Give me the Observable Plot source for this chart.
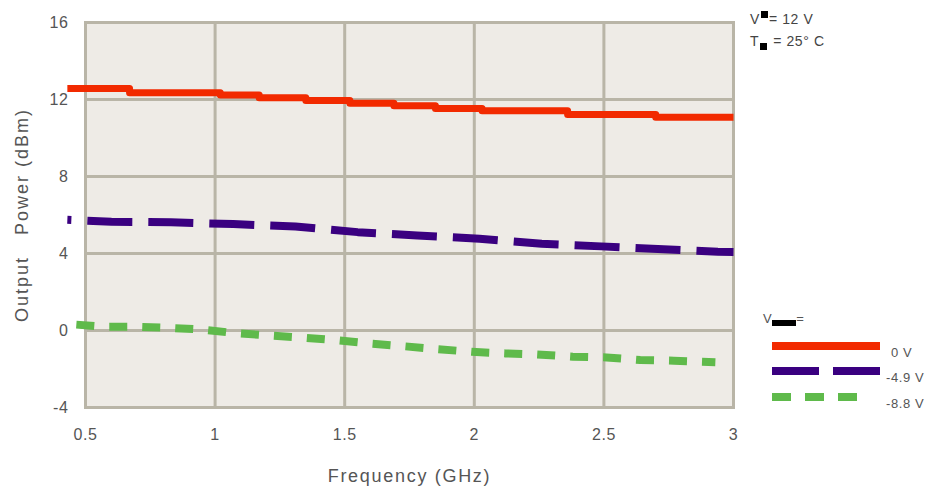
<!DOCTYPE html>
<html>
<head>
<meta charset="utf-8">
<script src="https://cdn.jsdelivr.net/npm/d3@7"></script>
<script src="https://cdn.jsdelivr.net/npm/@observablehq/plot@0.6"></script>
<style>
  html, body { margin: 0; padding: 0; background: #fff; }
  #wrap { position: relative; width: 942px; height: 494px; font-family: "Liberation Sans", Arial, sans-serif; color: #555; }
  .ann { position: absolute; font-size: 14px; letter-spacing: 0.6px; color: #444; white-space: nowrap; line-height: 1; }
  .sq { display: inline-block; width: 7px; height: 7px; background: #000; }
  .leglab { position: absolute; font-size: 13px; letter-spacing: 0.6px; color: #555; white-space: nowrap; }
</style>
</head>
<body>
<div id="wrap"></div>
<script>
// ---- data ----
const xTicks = [0.5, 1, 1.5, 2, 2.5, 3];
const yTicks = [-4, 0, 4, 8, 12, 16];
const seriesNames = ["0 V", "-4.9 V", "-8.8 V"];

const redX = [0.43, 0.67, 1.02, 1.17, 1.35, 1.52, 1.69, 1.85, 2.03, 2.36, 2.70, 3.0];
const redY = [12.57, 12.35, 12.23, 12.09, 11.95, 11.81, 11.67, 11.53, 11.41, 11.22, 11.08, 11.08];

const purpleX = [0.43, 0.60, 0.83, 1.07, 1.31, 1.55, 1.78, 2.02, 2.26, 2.49, 2.73, 2.94, 3.0];
const purpleY = [5.75, 5.65, 5.62, 5.53, 5.40, 5.11, 4.94, 4.77, 4.51, 4.37, 4.22, 4.09, 4.08];

const greenX = [0.43, 0.57, 0.69, 0.82, 0.95, 1.08, 1.21, 1.34, 1.47, 1.60, 1.73, 1.86, 1.99, 2.12, 2.24, 2.38, 2.51, 2.64, 2.77, 2.93];
const greenY = [0.34, 0.2, 0.2, 0.14, 0.05, -0.14, -0.26, -0.37, -0.51, -0.68, -0.82, -0.97, -1.11, -1.19, -1.24, -1.36, -1.40, -1.53, -1.57, -1.65];

const colors = ["#f22a00", "#3a0080", "#5fba4b"];
const gridColor = "#b9b5a7";

const toRows = (xs, ys) => xs.map((x, i) => ({x, y: ys[i]}));
const red = toRows(redX, redY);
const purple = toRows(purpleX, purpleY);
const green = toRows(greenX, greenY);

const chart = Plot.plot({
  width: 942,
  height: 494,
  marginLeft: 85,
  marginRight: 209,
  marginTop: 22,
  marginBottom: 87,
  style: {fontFamily: "Liberation Sans, Arial, sans-serif", color: "#555", background: "transparent"},
  x: {domain: [0.5, 3]},
  y: {domain: [-4, 16]},
  marks: [
    Plot.frame({fill: "#eeebe6", stroke: null}),
    Plot.gridX(xTicks, {stroke: gridColor, strokeOpacity: 1, strokeWidth: 3}),
    Plot.gridY(yTicks, {stroke: gridColor, strokeOpacity: 1, strokeWidth: 3}),
    Plot.frame({stroke: gridColor, strokeWidth: 3}),
    Plot.line(green, {x: "x", y: "y", stroke: colors[2], strokeWidth: 8, strokeDasharray: "18,15", strokeDashoffset: 24, strokeLinecap: "butt"}),
    Plot.line(purple, {x: "x", y: "y", stroke: colors[1], strokeWidth: 8, strokeDasharray: "45,16", strokeDashoffset: 41, strokeLinecap: "butt"}),
    Plot.line(red, {x: "x", y: "y", curve: "step-after", stroke: colors[0], strokeWidth: 7, strokeLinecap: "butt"}),
    Plot.axisX({ticks: xTicks, tickSize: 0, tickPadding: 21, fontSize: 16, label: null, tickFormat: d => String(d)}),
    Plot.axisY({ticks: yTicks, tickSize: 0, tickPadding: 17, fontSize: 16, label: null, tickFormat: d => String(d)}),
    Plot.text(["Frequency (GHz)"], {frameAnchor: "bottom", dy: 74, fontSize: 18, fill: "#555"}),
    Plot.text(["Output\u00a0\u00a0\u00a0Power\u00a0(dBm)"], {frameAnchor: "left", textAnchor: "middle", dx: -63, rotate: -90, fontSize: 18, fill: "#555"})
  ]
});

// widen lettering to match the reference's broad typeface
d3.select(chart).selectAll("text").style("letter-spacing", function () {
  const t = this.textContent;
  if (t === "Frequency (GHz)") return "1.7px";
  if (t.startsWith("Output")) return "2px";
  return "0.6px";
});

const wrap = document.getElementById("wrap");
wrap.appendChild(chart);

function addDiv(html, cls, left, top) {
  const d = document.createElement("div");
  d.className = cls;
  d.style.left = left + "px";
  d.style.top = top + "px";
  d.innerHTML = html;
  wrap.appendChild(d);
}
// conditions annotation
addDiv('V<span class="sq" style="vertical-align:6px;margin:0 1px"></span>= 12 V', "ann", 750, 11);
addDiv('T<span class="sq" style="vertical-align:-4px;margin:0 6px 0 1px"></span>= 25° C', "ann", 750, 34);
// legend title
addDiv('V<span style="display:inline-block;width:24px;height:6px;background:#000;vertical-align:-3px"></span>=', "leglab", 763, 311);
// legend swatches
const dashes = ["", "47,14", "19,14"];
const lens = [108, 108, 86];
const legY = [346, 371, 397];
seriesNames.forEach((name, i) => {
  const svg = d3.create("svg").attr("width", 120).attr("height", 12)
    .style("position", "absolute").style("left", "772px").style("top", (legY[i] - 6) + "px");
  svg.append("line").attr("x1", 0).attr("x2", lens[i]).attr("y1", 6).attr("y2", 6)
    .attr("stroke", colors[i]).attr("stroke-width", 8).attr("stroke-dasharray", dashes[i] || null);
  wrap.appendChild(svg.node());
  addDiv(name, "leglab", i === 0 ? 891 : 886, legY[i] - 1);
});
</script>
</body>
</html>
